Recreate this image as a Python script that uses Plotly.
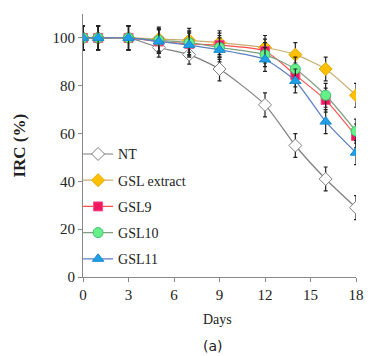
import plotly.graph_objects as go

days = [0, 1, 3, 5, 7, 9, 12, 14, 16, 18]
series_names = ["NT", "GSL extract", "GSL9", "GSL10", "GSL11"]
nt = [100, 100, 100, 96, 93, 87, 72, 55, 41, 29]
gsl_extract = [100, 100, 100, 99.5, 99, 98, 96, 93, 87, 76]
gsl9 = [100, 100, 100, 98.5, 97.5, 97, 94.5, 84.5, 74, 59]
gsl10 = [100, 100, 100, 99, 98, 96, 93, 87, 76, 61]
gsl11 = [100, 100, 100, 98.5, 97, 95, 91, 82, 65, 52]
err_nt = [5, 5, 5, 4, 4, 5, 5, 5, 5, 5]
err_extract = [5, 5, 5, 5, 5, 5, 5, 5, 5, 5]
err_gsl9 = [5, 5, 5, 5, 5, 5, 5, 5, 5, 5]
err_gsl10 = [5, 5, 5, 5, 5, 5, 5, 5, 5, 5]
err_gsl11 = [5, 5, 5, 5, 5, 5, 5, 5, 5, 5]
x_ticks = [0, 3, 6, 9, 12, 15, 18]
y_ticks = [0, 20, 40, 60, 80, 100]

styles = [
    dict(line="#7f7f7f", fill="white", edge="#7f7f7f", symbol="diamond", size=10),
    dict(line="#c8ad70", fill="#ffc000", edge="#e0a800", symbol="diamond", size=10),
    dict(line="#ff4d4d", fill="#f2155f", edge="#ff4d88", symbol="square", size=9),
    dict(line="#7f9f7f", fill="#66f08a", edge="#40c070", symbol="circle", size=10),
    dict(line="#5b7fbf", fill="#1ea0e6", edge="#1a8ad0", symbol="triangle-up", size=10),
]
values = [nt, gsl_extract, gsl9, gsl10, gsl11]
errors = [err_nt, err_extract, err_gsl9, err_gsl10, err_gsl11]

serif = "Liberation Serif"
tickfont = dict(family=serif, size=15, color="#222")
fig = go.Figure()
for i in range(5):
    s = styles[i]
    fig.add_trace(go.Scatter(
        x=days, y=values[i], name=series_names[i], mode="lines+markers",
        line=dict(color=s["line"], width=1.2, shape="spline", smoothing=0.6),
        marker=dict(symbol=s["symbol"], size=s["size"], color=s["fill"],
                    line=dict(color=s["edge"], width=1)),
        error_y=dict(type="data", array=errors[i], color="#222222", thickness=1.2, width=2),
        legendgroup=series_names[i],
    ))

fig.update_layout(
    width=371, height=356,
    margin=dict(l=83, r=7, t=14, b=79),
    paper_bgcolor="white", plot_bgcolor="white",
    font=dict(family=serif, size=13, color="#222"),
    showlegend=True,
    legend=dict(x=-0.018, y=0.527, xanchor="left", yanchor="top",
                font=dict(family=serif, size=14, color="#222"),
                bgcolor="rgba(0,0,0,0)", tracegroupgap=5, traceorder="grouped",
                itemwidth=30),
    xaxis=dict(range=[0, 18], tickvals=x_ticks, showgrid=False, zeroline=False,
               showline=True, linecolor="#888", linewidth=1.2, ticks="outside",
               ticklen=4, tickcolor="#888", tickfont=tickfont,
               ticklabeloverflow="allow"),
    yaxis=dict(range=[0, 110], tickvals=y_ticks, showgrid=False, zeroline=False,
               showline=True, linecolor="#888", linewidth=1.2, ticks="outside",
               ticklen=4, tickcolor="#888", tickfont=tickfont),
    annotations=[
        dict(text="Days", x=0.4326, y=-0.163, xref="paper", yref="paper",
             xanchor="left", yanchor="middle", showarrow=False,
             font=dict(family=serif, size=14, color="#222")),
        dict(text="(a)", x=0.4326, y=-0.262, xref="paper", yref="paper",
             xanchor="left", yanchor="middle", showarrow=False,
             font=dict(family="DejaVu Sans", size=14, color="#222")),
        dict(text="<b>IRC (%)</b>", x=-0.234, y=0.5, xref="paper", yref="paper",
             xanchor="center", yanchor="middle", textangle=-90, showarrow=False,
             font=dict(family=serif, size=17, color="#222")),
    ],
)
fig.write_html("out.html")
